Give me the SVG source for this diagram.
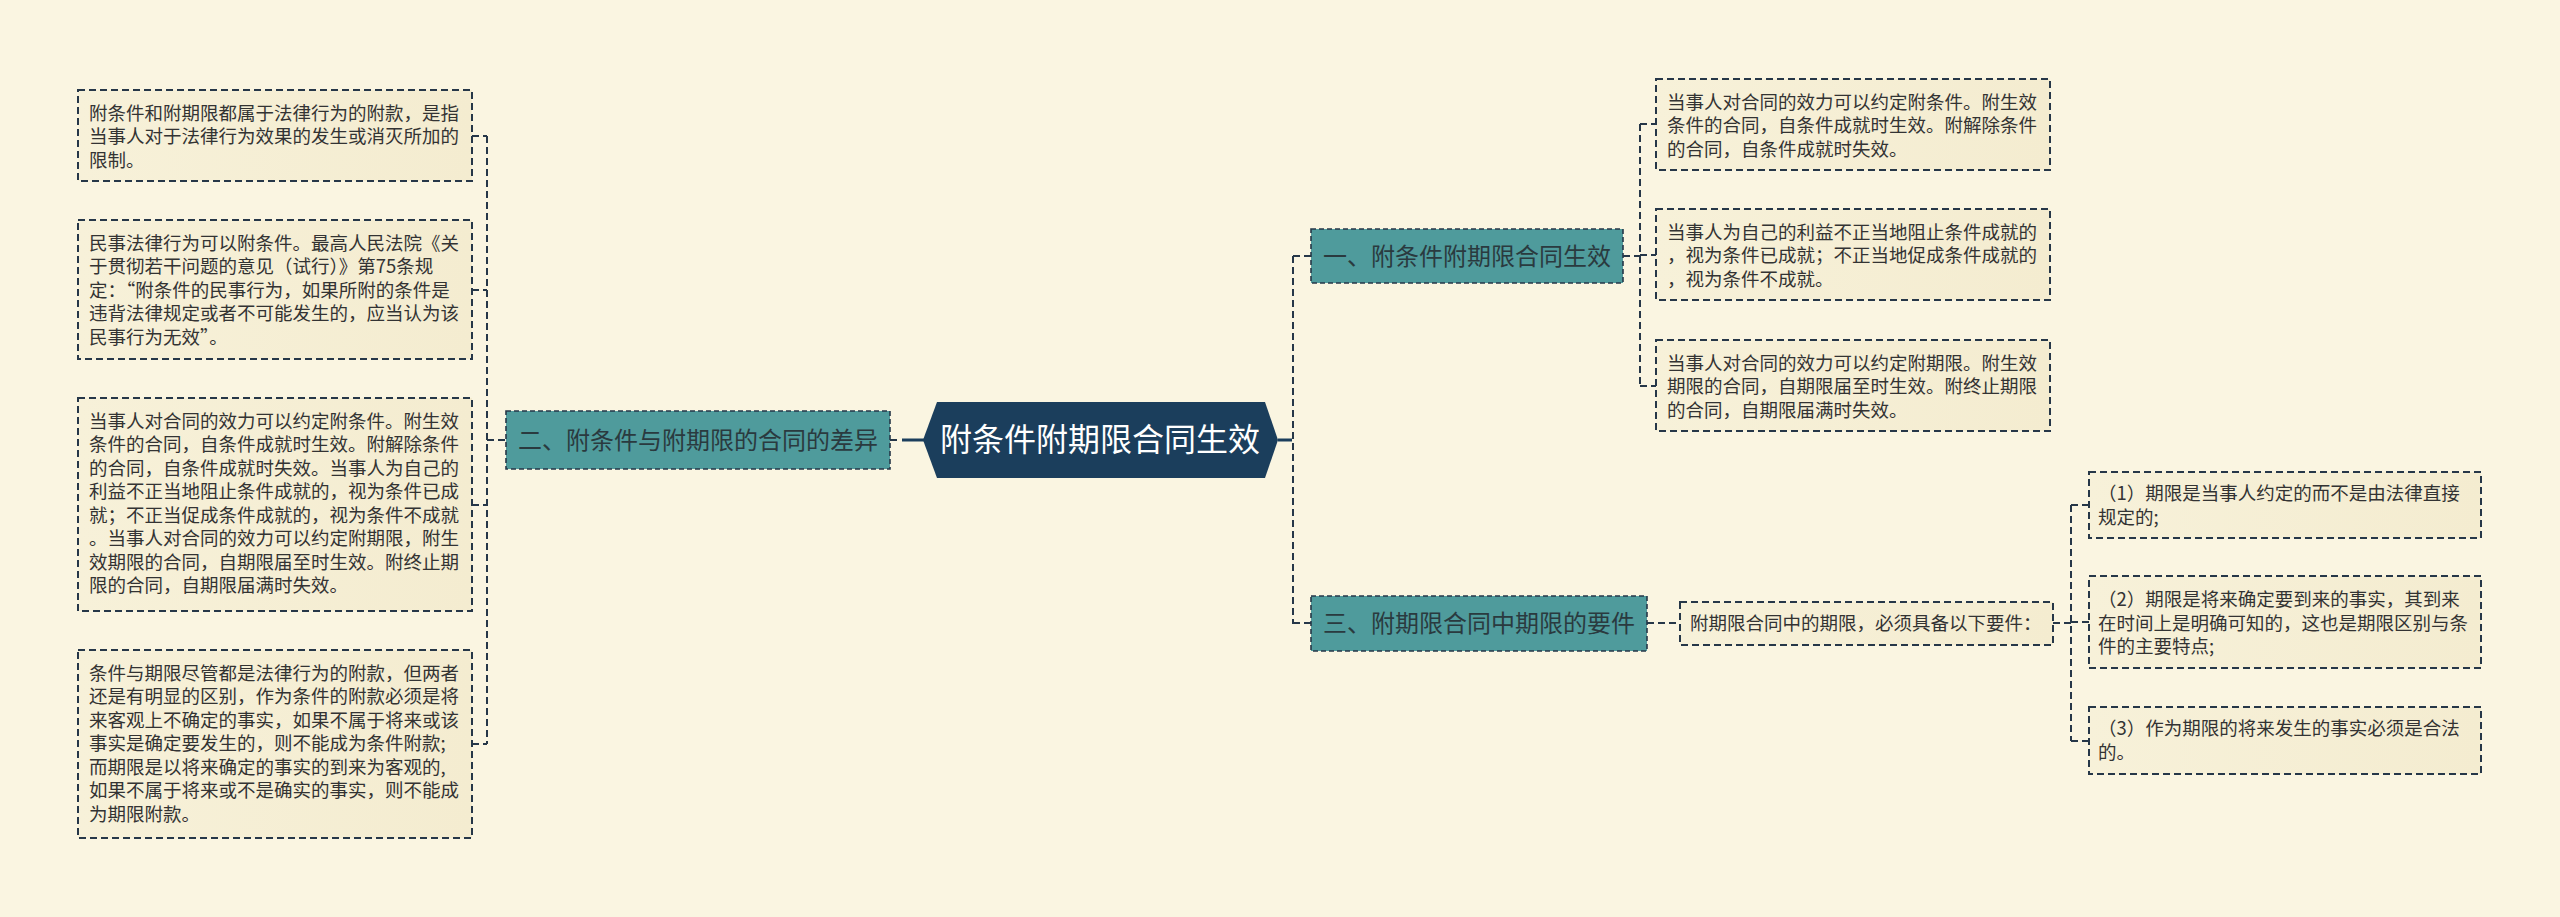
<svg xmlns="http://www.w3.org/2000/svg" width="2560" height="917" viewBox="0 0 2560 917">
<defs>
<linearGradient id="cream" x1="0" y1="0" x2="1" y2="0">
<stop offset="0" stop-color="#F7F1D9"/>
<stop offset="1" stop-color="#F4ECD0"/>
</linearGradient>
</defs>
<style>
.bg{fill:#FAF5E1}
.box{fill:url(#cream);stroke:#263748;stroke-width:2;stroke-dasharray:7 4}
.sub{fill:#4F9B9C;stroke:#263748;stroke-width:1.6;stroke-dasharray:5 3}
.t{font-family:"Noto Sans CJK SC","Noto Sans",sans-serif;font-size:18.5px;fill:#333333}
.st{font-family:"Noto Sans CJK SC","Noto Sans",sans-serif;font-size:24px;fill:#2A3A3F}
.mt{font-family:"Noto Sans CJK SC","Noto Sans",sans-serif;font-size:32px;fill:#FFFFFF;text-anchor:middle}
.c{fill:none;stroke:#263748;stroke-width:2;stroke-dasharray:7 4}
.cs{fill:none;stroke:#1B3E5C;stroke-width:3}
</style>
<rect class="bg" x="0" y="0" width="2560" height="917"/>

<g id="connectors">
<path class="cs" d="M902 440 H924"/>
<path class="c" d="M890 440 H900"/>
<path class="c" d="M487 136 V744 M472 136 H487 M472 290 H487 M472 505 H487 M472 744 H487 M487 440 H506"/>
<path class="cs" d="M1278 440 H1292"/>
<path class="c" d="M1293 256 V624 M1293 256 H1311 M1293 623 H1311"/>
<path class="c" d="M1640 124 V386 M1623 256 H1640 M1640 124 H1656 M1640 255 H1656 M1640 386 H1656"/>
<path class="c" d="M1647 623 H1680"/>
<path class="c" d="M2071 505 V741 M2053 623 H2071 M2071 505 H2089 M2071 622 H2089 M2071 741 H2089"/>
</g>

<g id="main">
<polygon points="923,440 937,402 1265,402 1278,440 1265,478 937,478" fill="#1B3E5C"/>
<text class="mt" x="1100" y="451">附条件附期限合同生效</text>
</g>

<g id="node-2">
<rect class="sub" x="506" y="411" width="384" height="58"/>
<text class="st" x="518" y="448.5">二、附条件与附期限的合同的差异</text>
</g>

<g id="node-1">
<rect class="sub" x="1311" y="229" width="312" height="54"/>
<text class="st" x="1323" y="264.5">一、附条件附期限合同生效</text>
</g>

<g id="node-3">
<rect class="sub" x="1311" y="596" width="336" height="55"/>
<text class="st" x="1323" y="632">三、附期限合同中期限的要件</text>
</g>

<g id="left-1">
<rect class="box" x="78" y="90" width="394" height="91"/>
<text class="t" x="89" y="119.5">附条件和附期限都属于法律行为的附款，是指</text>
<text class="t" x="89" y="143">当事人对于法律行为效果的发生或消灭所加的</text>
<text class="t" x="89" y="166.5">限制。</text>
</g>

<g id="left-2">
<rect class="box" x="78" y="220" width="394" height="139"/>
<text class="t" x="89" y="249.5">民事法律行为可以附条件。最高人民法院《关</text>
<text class="t" x="89" y="273">于贯彻若干问题的意见（试行）》第75条规</text>
<text class="t" x="89" y="296.5">定：“附条件的民事行为，如果所附的条件是</text>
<text class="t" x="89" y="320">违背法律规定或者不可能发生的，应当认为该</text>
<text class="t" x="89" y="343.5">民事行为无效”。</text>
</g>

<g id="left-3">
<rect class="box" x="78" y="398" width="394" height="213"/>
<text class="t" x="89" y="427.5">当事人对合同的效力可以约定附条件。附生效</text>
<text class="t" x="89" y="451">条件的合同，自条件成就时生效。附解除条件</text>
<text class="t" x="89" y="474.5">的合同，自条件成就时失效。当事人为自己的</text>
<text class="t" x="89" y="498">利益不正当地阻止条件成就的，视为条件已成</text>
<text class="t" x="89" y="521.5">就；不正当促成条件成就的，视为条件不成就</text>
<text class="t" x="89" y="545">。当事人对合同的效力可以约定附期限，附生</text>
<text class="t" x="89" y="568.5">效期限的合同，自期限届至时生效。附终止期</text>
<text class="t" x="89" y="592">限的合同，自期限届满时失效。</text>
</g>

<g id="left-4">
<rect class="box" x="78" y="650" width="394" height="188"/>
<text class="t" x="89" y="679.5">条件与期限尽管都是法律行为的附款，但两者</text>
<text class="t" x="89" y="703">还是有明显的区别，作为条件的附款必须是将</text>
<text class="t" x="89" y="726.5">来客观上不确定的事实，如果不属于将来或该</text>
<text class="t" x="89" y="750">事实是确定要发生的，则不能成为条件附款;</text>
<text class="t" x="89" y="773.5">而期限是以将来确定的事实的到来为客观的,</text>
<text class="t" x="89" y="797">如果不属于将来或不是确实的事实，则不能成</text>
<text class="t" x="89" y="820.5">为期限附款。</text>
</g>

<g id="right-1">
<rect class="box" x="1656" y="79" width="394" height="91"/>
<text class="t" x="1667" y="108.5">当事人对合同的效力可以约定附条件。附生效</text>
<text class="t" x="1667" y="132">条件的合同，自条件成就时生效。附解除条件</text>
<text class="t" x="1667" y="155.5">的合同，自条件成就时失效。</text>
</g>

<g id="right-2">
<rect class="box" x="1656" y="209" width="394" height="91"/>
<text class="t" x="1667" y="238.5">当事人为自己的利益不正当地阻止条件成就的</text>
<text class="t" x="1667" y="262">，视为条件已成就；不正当地促成条件成就的</text>
<text class="t" x="1667" y="285.5">，视为条件不成就。</text>
</g>

<g id="right-3">
<rect class="box" x="1656" y="340" width="394" height="91"/>
<text class="t" x="1667" y="369.5">当事人对合同的效力可以约定附期限。附生效</text>
<text class="t" x="1667" y="393">期限的合同，自期限届至时生效。附终止期限</text>
<text class="t" x="1667" y="416.5">的合同，自期限届满时失效。</text>
</g>

<g id="req-intro">
<rect class="box" x="1680" y="602" width="373" height="43"/>
<text class="t" x="1690" y="630">附期限合同中的期限，必须具备以下要件：</text>
</g>

<g id="req-1">
<rect class="box" x="2089" y="472" width="392" height="66"/>
<text class="t" x="2098" y="500">（1）期限是当事人约定的而不是由法律直接</text>
<text class="t" x="2098" y="523.5">规定的;</text>
</g>

<g id="req-2">
<rect class="box" x="2089" y="576" width="392" height="92"/>
<text class="t" x="2098" y="606">（2）期限是将来确定要到来的事实，其到来</text>
<text class="t" x="2098" y="629.5">在时间上是明确可知的，这也是期限区别与条</text>
<text class="t" x="2098" y="653">件的主要特点;</text>
</g>

<g id="req-3">
<rect class="box" x="2089" y="707" width="392" height="67"/>
<text class="t" x="2098" y="735">（3）作为期限的将来发生的事实必须是合法</text>
<text class="t" x="2098" y="758.5">的。</text>
</g>
</svg>
